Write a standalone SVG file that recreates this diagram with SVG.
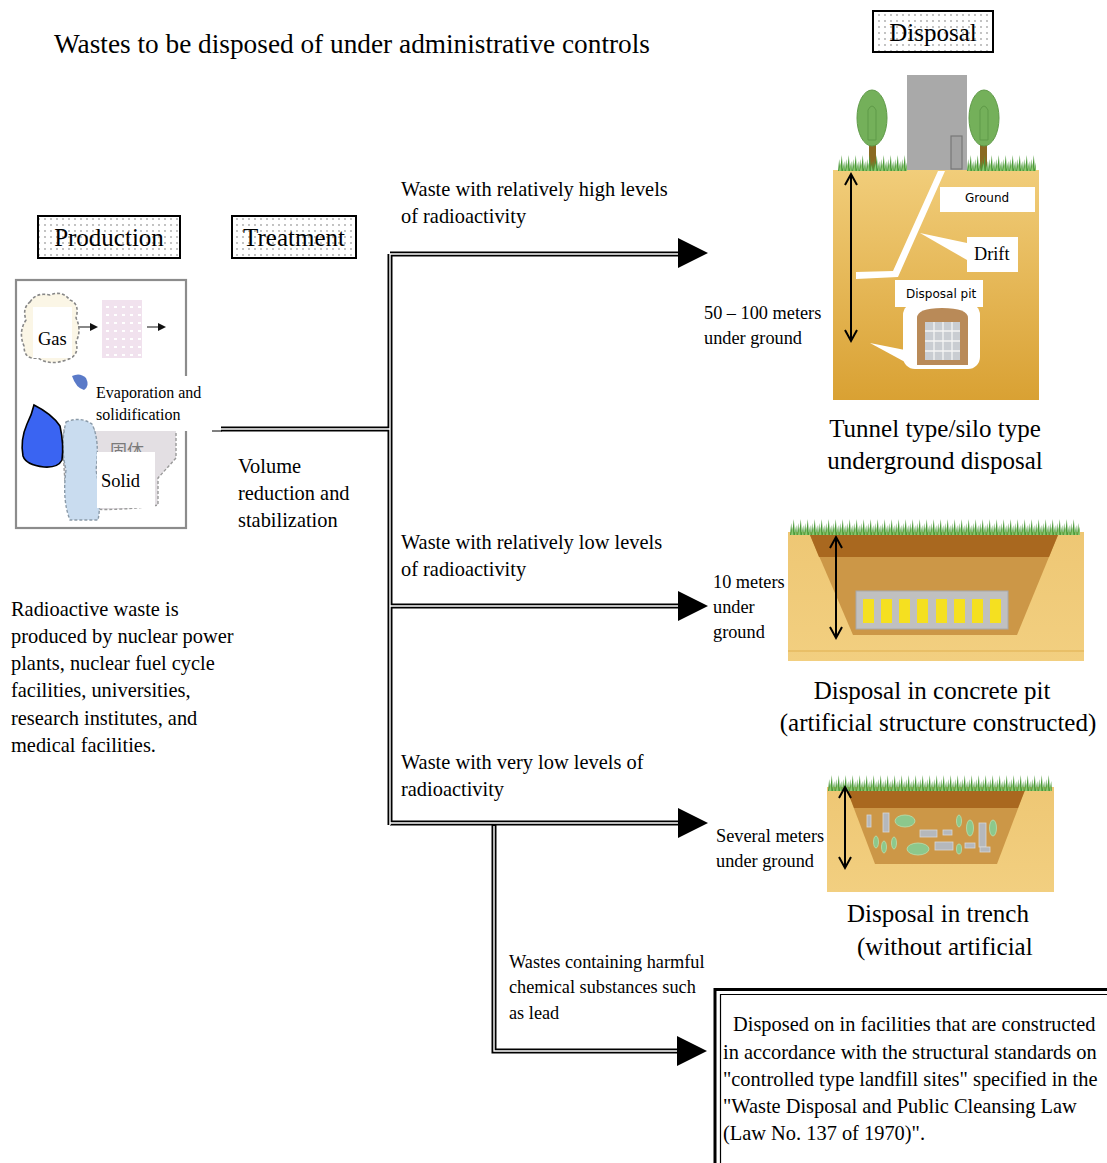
<svg xmlns="http://www.w3.org/2000/svg" width="1107" height="1163" viewBox="0 0 1107 1163">
<defs>
<pattern id="dots" width="6" height="6" patternUnits="userSpaceOnUse">
<rect width="6" height="6" fill="#ffffff"/>
<circle cx="3" cy="3" r="0.9" fill="#a8a8a8"/>
</pattern>
<pattern id="pinkdots" width="8" height="8" patternUnits="userSpaceOnUse">
<rect width="8" height="8" fill="#f1e2ee"/>
<rect x="2" y="2" width="3" height="2" fill="#ffffff"/>
</pattern>
<pattern id="grass" width="7" height="17" patternUnits="userSpaceOnUse">
<path d="M0 17 L1.2 5 L2.4 17 Z M2 17 L3.8 1 L5 17 Z M4.5 17 L6.2 7 L7 17 Z" fill="#4c9a3a"/>
<path d="M1 17 L2.6 9 L3.4 17 Z M5 17 L5.6 11 L6.6 17 Z" fill="#8cc870"/>
</pattern>
<linearGradient id="gold" x1="0" y1="0" x2="0" y2="1">
<stop offset="0" stop-color="#f1cd7a"/>
<stop offset="1" stop-color="#d9a133"/>
</linearGradient>
<linearGradient id="gold2" x1="0" y1="0" x2="0" y2="1">
<stop offset="0" stop-color="#eec774"/>
<stop offset="1" stop-color="#f2cf80"/>
</linearGradient>
</defs>
<style>
.t{font-family:"Liberation Serif","Times New Roman",serif;fill:#000}
.s{font-family:"DejaVu Sans","Liberation Sans",sans-serif;fill:#000}
.lbl{fill:url(#dots);stroke:#000;stroke-width:2}
.dblk{fill:none;stroke:#000;stroke-width:5}
.dwht{fill:none;stroke:#fff;stroke-width:1.4}
.wbox{fill:#fff}
.dim{fill:none;stroke:#000;stroke-width:2}
</style>
<rect width="1107" height="1163" fill="#fff"/>

<text class="t" x="54" y="53" font-size="27.3">Wastes to be disposed of under administrative controls</text>

<g id="disposal-label">
<rect class="lbl" x="873" y="11" width="120" height="41"/>
<text class="t" x="933" y="41" font-size="25" text-anchor="middle">Disposal</text>
</g>
<g id="production-label">
<rect class="lbl" x="38" y="216" width="142" height="42"/>
<text class="t" x="109" y="246" font-size="25" text-anchor="middle">Production</text>
</g>
<g id="treatment-label">
<rect class="lbl" x="232" y="216" width="124" height="42"/>
<text class="t" x="294" y="246" font-size="25" text-anchor="middle">Treatment</text>
</g>

<g id="production">
<rect x="16" y="280" width="170" height="248" fill="#fff" stroke="#8c8c8c" stroke-width="2.2"/>
<path d="M30 302 Q36 292 50 295 Q62 290 70 300 Q80 304 76 318 Q82 330 76 342 Q80 356 66 360 Q50 366 38 358 Q24 360 24 346 Q18 332 26 320 Q22 308 30 302 Z" fill="#fbf6e6" stroke="#888" stroke-width="1.6" stroke-dasharray="3 2"/>
<line x1="78" y1="327" x2="92" y2="327" stroke="#888" stroke-width="2"/>
<path d="M90 323 L98 327 L90 331 Z" fill="#111"/>
<rect x="102" y="300" width="40" height="58" fill="url(#pinkdots)"/>
<line x1="147" y1="327" x2="160" y2="327" stroke="#888" stroke-width="2"/>
<path d="M158 323 L166 327 L158 331 Z" fill="#111"/>
<path d="M72 376 Q80 372 86 378 Q90 386 84 390 Q76 388 72 376 Z" fill="#5a7ac8"/>
<path d="M64 430 L176 430 L176 458 L158 478 L158 505 Q120 512 70 508 Q62 480 64 430 Z" fill="#e3dfe3" stroke="#999" stroke-width="1.4" stroke-dasharray="3 2"/>
<text x="110" y="457" font-size="17" fill="#7a7a7a" font-family="Noto Sans CJK JP, sans-serif">固体</text>
<path d="M66 422 Q80 416 92 424 Q100 440 96 470 Q102 500 98 520 L70 520 Q62 500 66 470 Q60 445 66 422 Z" fill="#c9dcef" stroke="#8a9aa8" stroke-width="1.4" stroke-dasharray="3 2"/>
<path d="M34 405 Q52 414 60 426 Q64 444 62 460 Q58 468 44 467 Q26 465 23 456 Q20 440 27 424 Q32 414 34 405 Z" fill="#3a64f2" stroke="#000" stroke-width="1.6"/>
<rect class="wbox" x="33" y="307" width="39" height="51"/>
<text class="t" x="38" y="345" font-size="18.5">Gas</text>
<rect class="wbox" x="95" y="376" width="118" height="55"/>
<text class="t" x="96" y="398" font-size="16">Evaporation and</text>
<text class="t" x="96" y="420" font-size="16">solidification</text>
<rect class="wbox" x="97" y="452" width="58" height="56"/>
<text class="t" x="101" y="487" font-size="18.5">Solid</text>
</g>

<g id="production-text">
<text class="t" font-size="20.4"><tspan x="11" y="616">Radioactive waste is</tspan><tspan x="11" y="643">produced by nuclear power</tspan><tspan x="11" y="670">plants, nuclear fuel cycle</tspan><tspan x="11" y="697">facilities, universities,</tspan><tspan x="11" y="725">research institutes, and</tspan><tspan x="11" y="752">medical facilities.</tspan></text>
</g>
<g id="treatment-text">
<text class="t" font-size="20.4"><tspan x="238" y="473">Volume</tspan><tspan x="238" y="500">reduction and</tspan><tspan x="238" y="527">stabilization</tspan></text>
</g>

<g id="connectors">
<line x1="212" y1="431" x2="222" y2="431" stroke="#000" stroke-width="1"/>
<path class="dblk" d="M221 429 H390 M390 254 V825 M390 254 H680 M390 606 H680 M390 823 H680 M494 823 V1051 H680"/>
<path class="dwht" d="M221 429 H390 M390 254 V825 M390 254 H680 M390 606 H680 M390 823 H680 M494 826 V1051 H680"/>
<path d="M678 238 L708 253 L678 268 Z M678 591 L708 606 L678 621 Z M678 808 L708 823 L678 838 Z M677 1036 L707 1051 L677 1066 Z" fill="#000"/>
</g>

<g id="branch-labels">
<text class="t" font-size="20.4"><tspan x="401" y="196">Waste with relatively high levels</tspan><tspan x="401" y="223">of radioactivity</tspan></text>
<text class="t" font-size="20.4"><tspan x="401" y="549">Waste with relatively low levels</tspan><tspan x="401" y="576">of radioactivity</tspan></text>
<text class="t" font-size="20.4"><tspan x="401" y="769">Waste with very low levels of</tspan><tspan x="401" y="796">radioactivity</tspan></text>
<text class="t" font-size="18.3"><tspan x="509" y="968">Wastes containing harmful</tspan><tspan x="509" y="993">chemical substances such</tspan><tspan x="509" y="1019">as lead</tspan></text>
</g>

<g id="tunnel-disposal">
<rect x="833" y="170" width="206" height="230" fill="url(#gold)"/>
<rect x="907" y="75" width="60" height="95" fill="#a9a9a9"/>
<rect x="951" y="136" width="11" height="33" fill="#a2a2a2" stroke="#777" stroke-width="1.2"/>
<rect x="869" y="138" width="7" height="32" fill="#8a6a22"/>
<ellipse cx="872" cy="118" rx="15" ry="28" fill="#74b05a" stroke="#5f9a48" stroke-width="1"/>
<path d="M868 110 Q872 102 876 110 L876 140 L868 140 Z" fill="none" stroke="#5f9a48" stroke-width="1"/>
<rect x="980" y="138" width="7" height="32" fill="#8a6a22"/>
<ellipse cx="984" cy="118" rx="15" ry="28" fill="#74b05a" stroke="#5f9a48" stroke-width="1"/>
<path d="M980 110 Q984 102 988 110 L988 140 L980 140 Z" fill="none" stroke="#5f9a48" stroke-width="1"/>
<g transform="translate(838,154)"><rect width="69" height="17" fill="url(#grass)"/></g>
<g transform="translate(967,154)"><rect width="69" height="17" fill="url(#grass)"/></g>
<path d="M938 171 L945 171 L898 277 L856 279 L856 272 L893 271 Z" fill="#fff"/>
<path d="M920 233 L967 243 L967 260 Z" fill="#fff"/>
<path d="M870 343 L905 350 L905 362 Z" fill="#fff"/>
<rect x="903" y="303" width="77" height="66" rx="12" fill="#fff"/>
<path d="M917 365 V318 Q917 308 942 308 Q968 308 968 318 V365 Z" fill="#b98a58"/>
<rect x="925" y="322" width="35" height="38" fill="#c9cdd2"/>
<path d="M925 331 H960 M925 341 H960 M925 351 H960 M934 322 V360 M943 322 V360 M952 322 V360" stroke="#f4f4f4" stroke-width="1.3"/>
<rect class="wbox" x="940" y="187" width="95" height="25"/>
<text class="s" x="965" y="202" font-size="12">Ground</text>
<rect class="wbox" x="967" y="237" width="51" height="35"/>
<text class="t" x="974" y="260" font-size="18.3">Drift</text>
<rect class="wbox" x="895" y="280" width="88" height="27"/>
<text class="s" x="906" y="298" font-size="12">Disposal pit</text>
<path class="dim" d="M851 175 V340 M845 185 L851 174 L857 185 M845 330 L851 341 L857 330"/>
<text class="t" font-size="18.3"><tspan x="704" y="319">50 – 100 meters</tspan><tspan x="704" y="344">under ground</tspan></text>
<text class="t" font-size="25" text-anchor="middle"><tspan x="935" y="437">Tunnel type/silo type</tspan><tspan x="935" y="469">underground disposal</tspan></text>
</g>

<g id="concrete-pit-disposal">
<rect x="788" y="532" width="296" height="129" fill="url(#gold2)"/>
<line x1="788" y1="651" x2="1084" y2="651" stroke="#e0b050" stroke-width="1.2"/>
<path d="M810 535 L1058 535 L1017 635 L853 635 Z" fill="#cc9747"/>
<path d="M810 535 L1058 535 L1049 557 L819 557 Z" fill="#a9681f"/>
<g transform="translate(790,518)"><rect width="290" height="17" fill="url(#grass)"/></g>
<rect x="856" y="591" width="152" height="38" fill="#c0c0c0" stroke="#a8a8a8"/>
<g fill="#f5e020">
<rect x="863" y="599" width="11" height="24"/><rect x="881" y="599" width="11" height="24"/><rect x="899" y="599" width="11" height="24"/><rect x="917" y="599" width="11" height="24"/><rect x="936" y="599" width="11" height="24"/><rect x="954" y="599" width="11" height="24"/><rect x="972" y="599" width="11" height="24"/><rect x="990" y="599" width="11" height="24"/>
</g>
<path class="dim" d="M836 538 V637 M830 548 L836 537 L842 548 M830 627 L836 638 L842 627"/>
<text class="t" font-size="18.3"><tspan x="713" y="588">10 meters</tspan><tspan x="713" y="613">under</tspan><tspan x="713" y="638">ground</tspan></text>
<text class="t" font-size="25" text-anchor="middle"><tspan x="932" y="699">Disposal in concrete pit</tspan><tspan x="938" y="731">(artificial structure constructed)</tspan></text>
</g>

<g id="trench-disposal">
<rect x="827" y="787" width="227" height="105" fill="url(#gold2)"/>
<path d="M847 790 L1025 790 L997 864 L875 864 Z" fill="#cc9747"/>
<path d="M847 790 L1025 790 L1018 808 L854 808 Z" fill="#a9681f"/>
<g transform="translate(828,774)"><rect width="224" height="17" fill="url(#grass)"/></g>
<g fill="#b5b8bc" stroke="#d8d8d8" stroke-width="0.8">
<rect x="867" y="815" width="4" height="12"/><rect x="883" y="813" width="6" height="19"/><rect x="920" y="830" width="17" height="7"/><rect x="943" y="830" width="9" height="5"/><rect x="935" y="842" width="18" height="8"/><rect x="965" y="843" width="10" height="5"/><rect x="979" y="823" width="7" height="24"/><rect x="980" y="847" width="10" height="5"/>
</g>
<g fill="#8cc88c" stroke="#b8e0b0" stroke-width="0.8">
<ellipse cx="905" cy="821" rx="10" ry="6"/><ellipse cx="876" cy="842" rx="2.5" ry="6"/><ellipse cx="884" cy="847" rx="2.5" ry="6"/><ellipse cx="894" cy="843" rx="2.5" ry="6"/><ellipse cx="918" cy="849" rx="11" ry="6"/><ellipse cx="959" cy="849" rx="2.5" ry="5"/><ellipse cx="959" cy="821" rx="2.5" ry="6"/><ellipse cx="970" cy="828" rx="3.5" ry="8"/><ellipse cx="993" cy="828" rx="3.5" ry="8"/>
</g>
<path class="dim" d="M845 788 V867 M839 798 L845 787 L851 798 M839 857 L845 868 L851 857"/>
<text class="t" font-size="18.3"><tspan x="716" y="842">Several meters</tspan><tspan x="716" y="867">under ground</tspan></text>
<text class="t" font-size="25"><tspan x="938" y="922" text-anchor="middle">Disposal in trench</tspan><tspan x="857" y="955">(without artificial</tspan></text>
</g>

<g id="landfill-disposal">
<path d="M715 1163 V989.5 H1107" fill="none" stroke="#000" stroke-width="3"/>
<path d="M720.5 1163 V994.5 H1107" fill="none" stroke="#000" stroke-width="1.2"/>
<text class="t" font-size="20.4"><tspan x="733" y="1031">Disposed on in facilities that are constructed</tspan><tspan x="723" y="1059">in accordance with the structural standards on</tspan><tspan x="723" y="1086">"controlled type landfill sites" specified in the</tspan><tspan x="723" y="1113">"Waste Disposal and Public Cleansing Law</tspan><tspan x="723" y="1140">(Law No. 137 of 1970)".</tspan></text>
</g>
</svg>
